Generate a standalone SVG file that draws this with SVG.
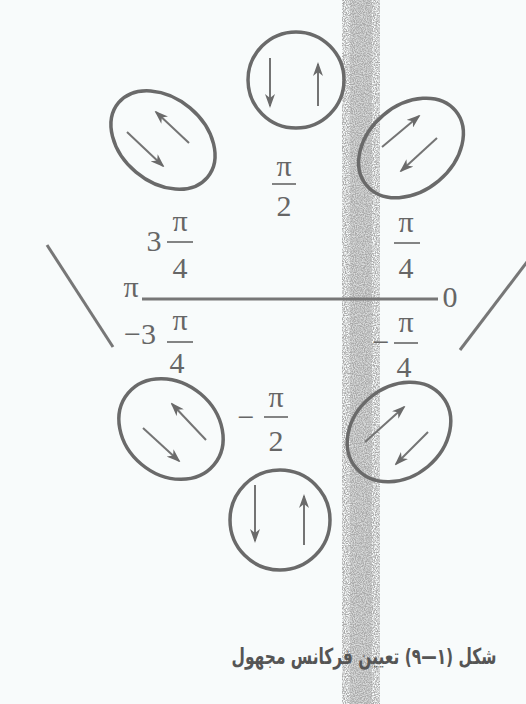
<svg xmlns="http://www.w3.org/2000/svg" width="526" height="704" viewBox="0 0 526 704">
<defs>
<style>
.shape{fill:none;stroke:#6a6a6a;stroke-width:3.5}
.arr{fill:none;stroke:#747474;stroke-width:2;marker-end:url(#ah)}
.ln{stroke:#777;stroke-width:3;fill:none}
.bar{stroke:#6e6e6e;stroke-width:1.7}
.m{font-family:"Liberation Serif","Times New Roman",serif;font-size:30px;fill:#666;text-anchor:middle}
.cap{font-family:"DejaVu Sans","Noto Sans",sans-serif;font-size:22px;font-weight:bold;fill:#555}
</style>
<marker id="ah" viewBox="0 0 14 10" refX="12" refY="5" markerWidth="14" markerHeight="10" markerUnits="userSpaceOnUse" orient="auto">
<path d="M0,0 L14,5 L0,10 L4,5 z" fill="#6a6a6a"/>
</marker>
<filter id="grain" x="0" y="0" width="100%" height="100%">
<feTurbulence type="fractalNoise" baseFrequency="0.9" numOctaves="2" seed="3" result="n"/>
<feColorMatrix in="n" type="matrix" values="0 0 0 0 0.4  0 0 0 0 0.4  0 0 0 0 0.4  0 0 0 2.6 -0.8" result="g"/>
<feComposite in="g" in2="SourceGraphic" operator="in"/>
</filter>
</defs>
<rect width="526" height="704" fill="#f8fbfb"/>
<g id="band">
<rect x="342" y="0" width="38" height="704" fill="#999" filter="url(#grain)"/>
<rect x="350" y="0" width="22" height="704" fill="#a8a8a8" opacity="0.4"/>
</g>

<g id="connectors">
<line class="ln" x1="142" y1="299" x2="438" y2="299"/>
<line class="ln" x1="47" y1="245" x2="113" y2="347"/>
<line class="ln" x1="460" y1="350" x2="530" y2="258"/>
</g>

<g id="node-top">
<circle class="shape" cx="296" cy="80" r="48"/>
<line class="arr" x1="270" y1="58" x2="270" y2="106"/>
<line class="arr" x1="318" y1="106" x2="318" y2="64"/>
</g>

<g id="node-top-left">
<ellipse class="shape" cx="163" cy="140" rx="58" ry="42" transform="rotate(40 163 140)"/>
<line class="arr" x1="127" y1="132" x2="163" y2="166"/>
<line class="arr" x1="189" y1="143" x2="156" y2="112"/>
</g>

<g id="node-top-right">
<ellipse class="shape" cx="411" cy="148" rx="58" ry="43" transform="rotate(-40 411 148)"/>
<line class="arr" x1="382" y1="147" x2="419" y2="116"/>
<line class="arr" x1="437" y1="138" x2="401" y2="171"/>
</g>

<g id="node-bottom-left">
<ellipse class="shape" cx="171" cy="429" rx="56" ry="46" transform="rotate(40 171 429)"/>
<line class="arr" x1="143" y1="428" x2="179" y2="461"/>
<line class="arr" x1="206" y1="440" x2="172" y2="404"/>
</g>

<g id="node-bottom-right">
<ellipse class="shape" cx="399" cy="432" rx="56" ry="45" transform="rotate(-40 399 432)"/>
<line class="arr" x1="365" y1="442" x2="404" y2="407"/>
<line class="arr" x1="428" y1="432" x2="396" y2="464"/>
</g>

<g id="node-bottom">
<circle class="shape" cx="280" cy="520" r="50"/>
<line class="arr" x1="255" y1="485" x2="255" y2="541"/>
<line class="arr" x1="304" y1="545" x2="304" y2="496"/>
</g>

<g id="labels">
<text class="m" x="284" y="176">π</text>
<line class="bar" x1="272" y1="184" x2="296" y2="184"/>
<text class="m" x="284" y="216">2</text>

<text class="m" x="154" y="251">3</text>
<text class="m" x="180" y="231">π</text>
<line class="bar" x1="167" y1="242" x2="193" y2="242"/>
<text class="m" x="180" y="278">4</text>

<text class="m" x="406" y="232">π</text>
<line class="bar" x1="394" y1="243" x2="420" y2="243"/>
<text class="m" x="406" y="278">4</text>

<text class="m" x="131" y="297">π</text>
<text class="m" x="450" y="307">0</text>

<text class="m" x="140" y="344">−3</text>
<text class="m" x="180" y="330">π</text>
<line class="bar" x1="167" y1="342" x2="193" y2="342"/>
<text class="m" x="177" y="373">4</text>

<text class="m" x="381" y="352">−</text>
<text class="m" x="406" y="332">π</text>
<line class="bar" x1="394" y1="343" x2="418" y2="343"/>
<text class="m" x="404" y="377">4</text>

<text class="m" x="246" y="427">−</text>
<text class="m" x="276" y="407">π</text>
<line class="bar" x1="264" y1="417" x2="288" y2="417"/>
<text class="m" x="276" y="451">2</text>
</g>

<g id="caption">
<text class="cap" x="364" y="664" direction="rtl" text-anchor="middle" textLength="265" lengthAdjust="spacingAndGlyphs">شکل (۱—۹) تعیین فرکانس مجهول</text>
</g>
</svg>
